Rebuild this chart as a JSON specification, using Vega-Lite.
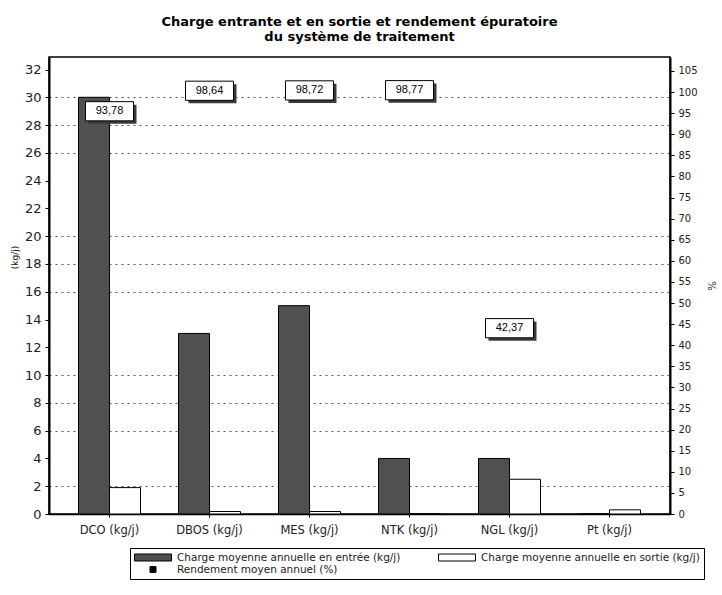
{
  "$schema": "https://vega.github.io/schema/vega-lite/v6.json",
  "width": 621,
  "height": 457,
  "autosize": "none",
  "padding": {"left": 49, "top": 57, "right": 52, "bottom": 81},
  "background": "white",
  "title": {
    "text": ["Charge entrante et en sortie et rendement épuratoire", "du système de traitement"],
    "font": "DejaVu Sans",
    "fontWeight": "bold",
    "fontSize": 13,
    "lineHeight": 15,
    "offset": 13,
    "anchor": "middle",
    "color": "black"
  },
  "config": {
    "view": {"stroke": "black", "strokeWidth": 1.5},
    "axis": {"labelFont": "DejaVu Sans", "titleFont": "DejaVu Sans", "labelColor": "#222", "titleColor": "#222", "domainColor": "black", "tickColor": "black"}
  },
  "datasets": {
    "charges": [
      {"param": "DCO (kg/j)", "serie": "Charge moyenne annuelle en entrée (kg/j)", "charge": 30},
      {"param": "DCO (kg/j)", "serie": "Charge moyenne annuelle en sortie (kg/j)", "charge": 1.9},
      {"param": "DBOS (kg/j)", "serie": "Charge moyenne annuelle en entrée (kg/j)", "charge": 13},
      {"param": "DBOS (kg/j)", "serie": "Charge moyenne annuelle en sortie (kg/j)", "charge": 0.18},
      {"param": "MES (kg/j)", "serie": "Charge moyenne annuelle en entrée (kg/j)", "charge": 15},
      {"param": "MES (kg/j)", "serie": "Charge moyenne annuelle en sortie (kg/j)", "charge": 0.18},
      {"param": "NTK (kg/j)", "serie": "Charge moyenne annuelle en entrée (kg/j)", "charge": 4.0},
      {"param": "NTK (kg/j)", "serie": "Charge moyenne annuelle en sortie (kg/j)", "charge": 0.02},
      {"param": "NGL (kg/j)", "serie": "Charge moyenne annuelle en entrée (kg/j)", "charge": 4.0},
      {"param": "NGL (kg/j)", "serie": "Charge moyenne annuelle en sortie (kg/j)", "charge": 2.5},
      {"param": "Pt (kg/j)", "serie": "Charge moyenne annuelle en entrée (kg/j)", "charge": 0},
      {"param": "Pt (kg/j)", "serie": "Charge moyenne annuelle en sortie (kg/j)", "charge": 0.3}
    ],
    "rendements": [
      {"param": "DCO (kg/j)", "rendement": 93.78, "label": "93,78"},
      {"param": "DBOS (kg/j)", "rendement": 98.64, "label": "98,64"},
      {"param": "MES (kg/j)", "rendement": 98.72, "label": "98,72"},
      {"param": "NTK (kg/j)", "rendement": 98.77, "label": "98,77"},
      {"param": "NGL (kg/j)", "rendement": 42.37, "label": "42,37"}
    ]
  },
  "encoding": {
    "x": {
      "field": "param", "type": "nominal",
      "scale": {"domain": ["DCO (kg/j)", "DBOS (kg/j)", "MES (kg/j)", "NTK (kg/j)", "NGL (kg/j)", "Pt (kg/j)"], "paddingInner": 0.38, "paddingOuter": 0.295},
      "axis": {"title": null, "labelAngle": 0, "labelFont": "DejaVu Sans", "labelFontSize": 11.5, "labelPadding": 7, "tickSize": 3, "domainWidth": 1.5}
    }
  },
  "layer": [
    {
      "data": {"name": "charges"},
      "mark": {"type": "bar", "stroke": "black", "strokeWidth": 1},
      "encoding": {
        "xOffset": {
          "field": "serie", "type": "nominal",
          "scale": {"domain": ["Charge moyenne annuelle en entrée (kg/j)", "Charge moyenne annuelle en sortie (kg/j)"], "paddingInner": 0, "paddingOuter": 0}
        },
        "y": {
          "field": "charge", "type": "quantitative",
          "scale": {"domain": [0, 32.9], "nice": false},
          "axis": {
            "title": "(kg/j)",
            "values": [0, 2, 4, 6, 8, 10, 12, 14, 16, 18, 20, 22, 24, 26, 28, 30, 32],
            "labelFontSize": 13, "tickSize": 4, "labelPadding": 4,
            "titleFontSize": 9, "titleFontWeight": "normal", "titlePadding": 5, "titleY": 200,
            "domainWidth": 2,
            "grid": true, "gridDash": [2, 4], "gridColor": "#555",
            "gridOpacity": {"condition": {"test": "indexof([2,6,8,10,16,18,20,26,28,30], datum.value) >= 0", "value": 1}, "value": 0}
          }
        },
        "fill": {
          "field": "serie", "type": "nominal",
          "scale": {"domain": ["Charge moyenne annuelle en entrée (kg/j)", "Charge moyenne annuelle en sortie (kg/j)", "Rendement moyen annuel (%)"], "range": ["#505050", "white", "black"]},
          "legend": {
            "title": null, "orient": "none", "legendX": 81, "legendY": 491,
            "direction": "horizontal", "columns": 2,
            "strokeColor": "black", "padding": 4,
            "labelFont": "DejaVu Sans", "labelFontSize": 10.5, "labelColor": "#222", "labelLimit": 400,
            "symbolType": "M-3.7,-0.7H3.7V0.7H-3.7Z", "symbolSize": 100,
            "symbolOffset": 13.5, "labelOffset": 18.5,
            "symbolStrokeColor": "black", "symbolStrokeWidth": 1,
            "columnPadding": 35, "rowPadding": 1,
            "encode": {
              "symbols": {
                "update": {
                  "shape": {"signal": "datum.value === 'Rendement moyen annuel (%)' ? 'square' : 'M-3.7,-0.7H3.7V0.7H-3.7Z'"},
                  "size": {"signal": "datum.value === 'Rendement moyen annuel (%)' ? 36 : 100"}
                }
              }
            }
          }
        }
      }
    },
    {
      "data": {"name": "rendements"},
      "encoding": {
        "y": {
          "field": "rendement", "type": "quantitative",
          "scale": {"domain": [0, 108.3], "nice": false},
          "axis": {
            "orient": "right", "title": "%",
            "values": [0, 5, 10, 15, 20, 25, 30, 35, 40, 45, 50, 55, 60, 65, 70, 75, 80, 85, 90, 95, 100, 105],
            "labelFontSize": 10, "tickSize": 4, "labelPadding": 4,
            "titleFontSize": 10, "titleFontWeight": "normal", "titlePadding": 8,
            "domainWidth": 2, "grid": false
          }
        }
      },
      "layer": [
        {
          "mark": {"type": "point", "shape": "square", "filled": true, "size": 30, "opacity": 1},
          "encoding": {"fill": {"datum": "Rendement moyen annuel (%)", "type": "nominal"}}
        },
        {
          "mark": {"type": "point", "shape": "M-1,-0.4H1V0.4H-1Z", "size": 2304, "filled": true, "fill": "#3a3a3a", "opacity": 1, "xOffset": 3, "yOffset": -4}
        },
        {
          "mark": {"type": "point", "shape": "M-1,-0.4H1V0.4H-1Z", "size": 2304, "filled": true, "fill": "white", "stroke": "black", "strokeWidth": 1, "opacity": 1, "yOffset": -7}
        },
        {
          "mark": {"type": "text", "font": "Liberation Sans", "fontSize": 11, "color": "black", "align": "center", "baseline": "middle", "yOffset": -7},
          "encoding": {"text": {"field": "label"}}
        }
      ]
    }
  ],
  "resolve": {"scale": {"y": "independent"}}
}
